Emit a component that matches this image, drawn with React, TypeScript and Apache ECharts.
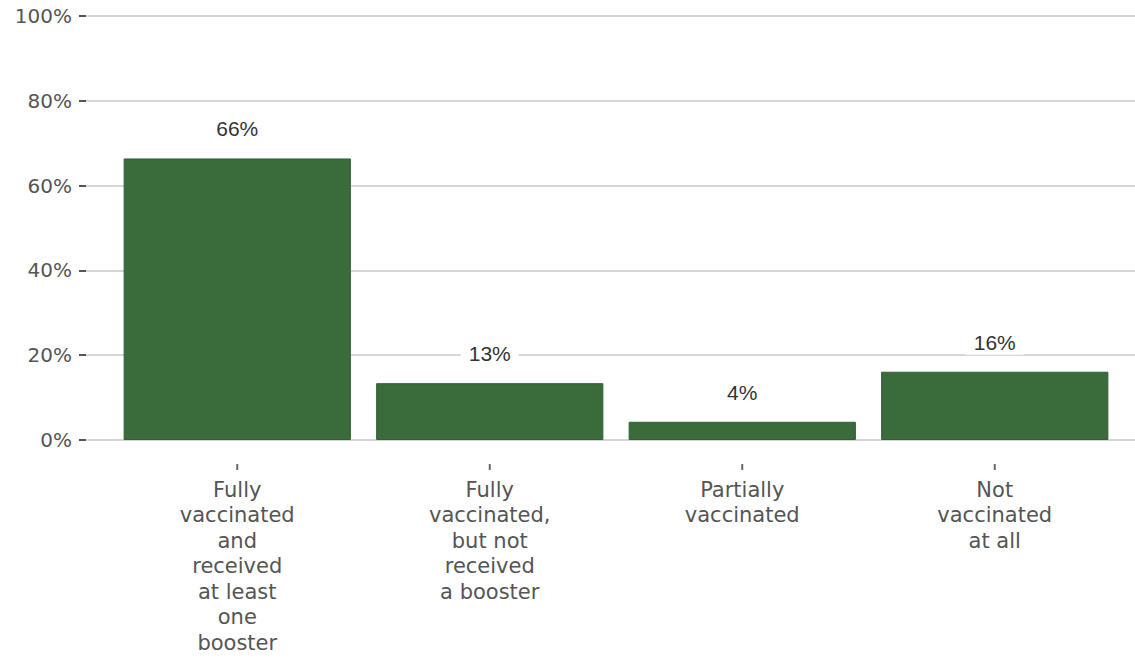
import React, { useEffect, useRef } from "react";
import * as echarts from "echarts";

const categories = [
  "Fully\nvaccinated\nand\nreceived\nat least\none\nbooster",
  "Fully\nvaccinated,\nbut not\nreceived\na booster",
  "Partially\nvaccinated",
  "Not\nvaccinated\nat all",
];
const values = [66.4, 13.4, 4.3, 16.1];
const yTicks = [0, 20, 40, 60, 80, 100];

export default function App() {
  const ref = useRef<HTMLDivElement>(null);
  useEffect(() => {
    if (!ref.current) return;
    const chart = echarts.init(ref.current, null, { renderer: "svg" });
    chart.setOption({
      animation: false,
      backgroundColor: "#ffffff",
      grid: [
        { left: 86, right: 0, top: 16, bottom: 219 },
        { left: 111, width: 1010, top: 16, bottom: 219 },
        { left: 111, width: 1010, top: 464, height: 6 },
      ],
      xAxis: [
        { gridIndex: 0, type: "value", show: false, min: 0, max: 1 },
        {
          gridIndex: 1,
          type: "category",
          data: categories,
          axisLine: { show: false },
          axisTick: { show: false },
          axisLabel: {
            margin: 37,
            fontFamily: "DejaVu Sans",
            fontSize: 21,
            lineHeight: 25.5,
            color: "#555",
            align: "center",
            verticalAlign: "top",
          },
        },
        { gridIndex: 2, type: "category", data: categories, show: false },
      ],
      yAxis: [
        {
          gridIndex: 0,
          type: "value",
          min: 0,
          max: 100,
          interval: 20,
          axisLine: { show: false },
          axisTick: { show: true, length: 7, lineStyle: { color: "#555", width: 2 } },
          axisLabel: {
            margin: 14,
            fontFamily: "DejaVu Sans",
            fontSize: 20,
            color: "#555",
            formatter: (v: number) => (yTicks.includes(v) ? v + "%" : ""),
          },
          splitLine: { show: true, lineStyle: { color: "#c8c8c8", width: 1.5 } },
        },
        { gridIndex: 1, type: "value", min: 0, max: 100, show: false },
        { gridIndex: 2, type: "value", min: 0, max: 1, show: false },
      ],
      series: [
        {
          type: "bar",
          xAxisIndex: 1,
          yAxisIndex: 1,
          data: values,
          barCategoryGap: "10%",
          itemStyle: { color: "#3a6b3a", borderColor: "#326034", borderWidth: 1 },
          label: {
            show: true,
            position: "top",
            distance: 17,
            fontFamily: "Liberation Sans",
            fontSize: 21,
            color: "#333",
            backgroundColor: "#ffffff",
            padding: [2, 8],
            formatter: (p: any) => Math.round(p.value) + "%",
          },
        },
        {
          type: "scatter",
          xAxisIndex: 2,
          yAxisIndex: 2,
          data: categories.map(() => 0.5),
          symbol: "rect",
          symbolSize: [2, 6],
          itemStyle: { color: "#444" },
          silent: true,
        },
      ],
    });
    return () => chart.dispose();
  }, []);
  return (
    <div
      ref={ref}
      style={{ position: "fixed", left: 0, top: 0, width: 1135, height: 659 }}
    />
  );
}
